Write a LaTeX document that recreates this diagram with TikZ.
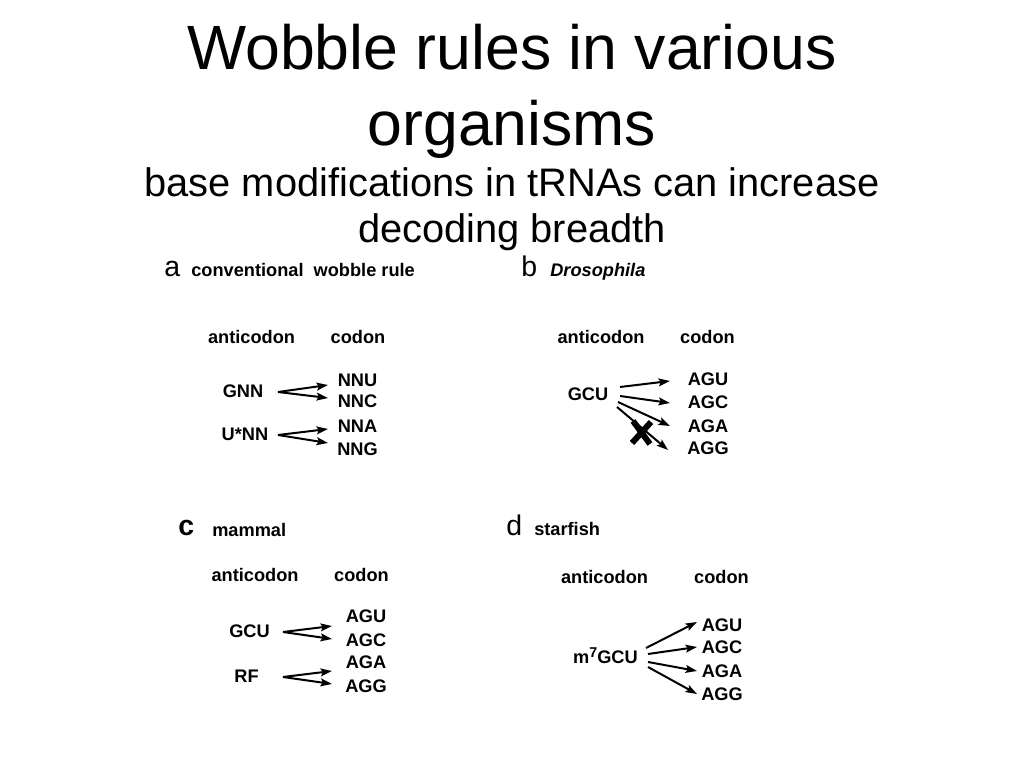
\documentclass[tikz,border=0pt]{standalone}
\usepackage{fontspec}
\setmainfont{Liberation Sans}
\usetikzlibrary{arrows.meta}
\begin{document}
\begin{tikzpicture}[x=0.703125pt,y=-0.703125pt,
  lab/.style={inner sep=0pt,anchor=base,font=\bfseries\fontsize{12.8}{15}\selectfont},
  pletter/.style={inner sep=0pt,anchor=base west,font=\fontsize{20}{24}\selectfont},
  ptitle/.style={inner sep=0pt,anchor=base west,font=\bfseries\fontsize{12.8}{15}\selectfont},
  ttl/.style={inner sep=0pt,anchor=base,font=\fontsize{44}{52}\selectfont},
  sub/.style={inner sep=0pt,anchor=base,font=\fontsize{28}{34}\selectfont},
  arr/.style={line width=1.4pt,-{Stealth[length=8pt,width=5.5pt,inset=1.5pt]}},
  cross/.style={line width=4.2pt}]
\useasboundingbox (0,0) rectangle (1024,768);
% titles
\node[ttl] (t1) at (512,70) {Wobble rules in various};
\node[ttl] (t2) at (512,146) {organisms};
\node[sub] (s1) at (512,197) {base modifications in tRNAs can increase};
\node[sub] (s2) at (512,243) {decoding breadth};
% ---------- panel a
\node[pletter] (la) at (164,277) {a};
\node[ptitle] (ta) at (191,277) {conventional~~wobble rule};
\node[lab] (aac) at (251.5,343) {anticodon};
\node[lab] (aco) at (358,343) {codon};
\node[lab] (gnn) at (243,397) {GNN};
\node[lab] (unn) at (245,440) {U*NN};
\node[lab] (nnu) at (357.5,386) {NNU};
\node[lab] (nnc) at (357.5,407) {NNC};
\node[lab] (nna) at (357.5,432) {NNA};
\node[lab] (nng) at (357.5,455) {NNG};
\coordinate (a1) at (278,392);
\coordinate (a1u) at (328,385);
\coordinate (a1c) at (328,398);
\coordinate (a2) at (278,435);
\coordinate (a2a) at (328,429);
\coordinate (a2g) at (328,443);
\draw[arr] (a1) -- (a1u);
\draw[arr] (a1) -- (a1c);
\draw[arr] (a2) -- (a2a);
\draw[arr] (a2) -- (a2g);
% ---------- panel b
\node[pletter] (lb) at (521,277) {b};
\node[ptitle,font=\bfseries\itshape\fontsize{12.8}{15}\selectfont] (tb) at (550,277) {Drosophila};
\node[lab] (bac) at (601,343) {anticodon};
\node[lab] (bco) at (707.5,343) {codon};
\node[lab] (bgcu) at (588,400) {GCU};
\node[lab] (bagu) at (708,385) {AGU};
\node[lab] (bagc) at (708,408) {AGC};
\node[lab] (baga) at (708,432) {AGA};
\node[lab] (bagg) at (708,454) {AGG};
\coordinate (b1s) at (620,387);
\coordinate (b1e) at (670,381);
\coordinate (b2s) at (620,396);
\coordinate (b2e) at (670,403);
\coordinate (b3s) at (618,402);
\coordinate (b3e) at (670,426);
\coordinate (b4s) at (617,407);
\coordinate (b4e) at (668,450);
\draw[arr] (b1s) -- (b1e);
\draw[arr] (b2s) -- (b2e);
\draw[arr] (b3s) -- (b3e);
\draw[arr] (b4s) -- (b4e);
\coordinate (x1) at (633,421);
\coordinate (x2) at (650,444);
\coordinate (x3) at (651,422);
\coordinate (x4) at (632,443);
\draw[cross] (x1) -- (x2);
\draw[cross] (x3) -- (x4);
% ---------- panel c
\node[pletter,font=\bfseries\fontsize{20}{24}\selectfont] (lc) at (178,535) {c};
\node[ptitle] (tc) at (212,536) {mammal};
\node[lab] (cac) at (255,581) {anticodon};
\node[lab] (cco) at (361.5,581) {codon};
\node[lab] (cgcu) at (249.5,637) {GCU};
\node[lab] (crf) at (246.5,682) {RF};
\node[lab] (cagu) at (366,622) {AGU};
\node[lab] (cagc) at (366,646) {AGC};
\node[lab] (caga) at (366,668) {AGA};
\node[lab] (cagg) at (366,692) {AGG};
\coordinate (c1) at (283,632);
\coordinate (c1u) at (332,626);
\coordinate (c1c) at (332,639);
\coordinate (c2) at (283,677);
\coordinate (c2a) at (332,671);
\coordinate (c2g) at (332,684);
\draw[arr] (c1) -- (c1u);
\draw[arr] (c1) -- (c1c);
\draw[arr] (c2) -- (c2a);
\draw[arr] (c2) -- (c2g);
% ---------- panel d
\node[pletter] (ld) at (506,535) {d};
\node[ptitle] (td) at (534,535) {starfish};
\node[lab] (dac) at (604.5,583) {anticodon};
\node[lab] (dco) at (721.5,583) {codon};
\node[lab] (dgcu) at (605.5,663) {m\raisebox{4.2pt}{\fontsize{10}{10}\selectfont 7}GCU};
\node[lab] (dagu) at (722,631) {AGU};
\node[lab] (dagc) at (722,653) {AGC};
\node[lab] (daga) at (722,677) {AGA};
\node[lab] (dagg) at (722,700) {AGG};
\coordinate (d1s) at (646,648);
\coordinate (d1e) at (697,622);
\coordinate (d2s) at (648,654);
\coordinate (d2e) at (697,647);
\coordinate (d3s) at (648,662);
\coordinate (d3e) at (697,671);
\coordinate (d4s) at (648,667);
\coordinate (d4e) at (697,694);
\draw[arr] (d1s) -- (d1e);
\draw[arr] (d2s) -- (d2e);
\draw[arr] (d3s) -- (d3e);
\draw[arr] (d4s) -- (d4e);
\end{tikzpicture}
\end{document}
